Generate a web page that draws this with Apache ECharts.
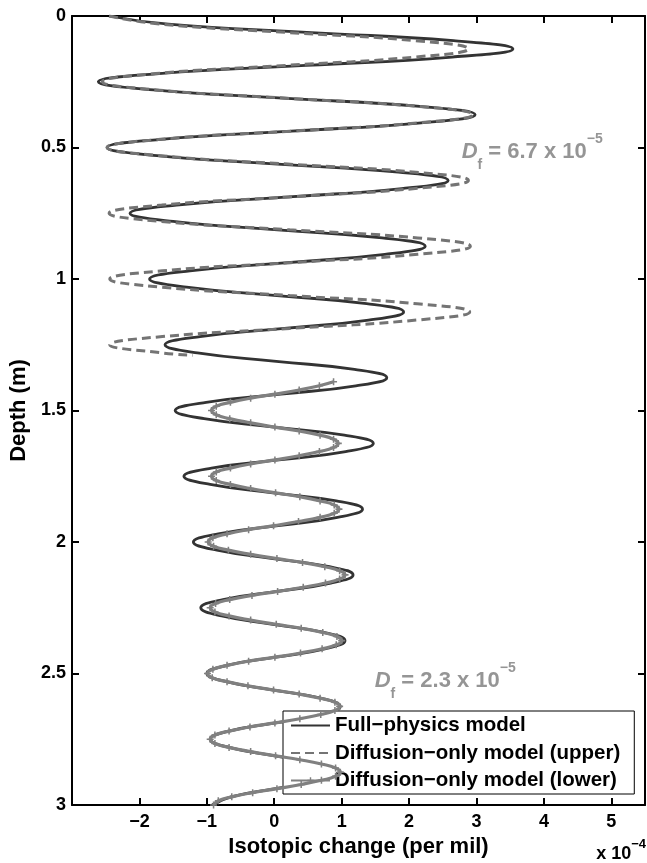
<!DOCTYPE html>
<html>
<head>
<meta charset="utf-8">
<title>Isotopic change with depth</title>
<script src="https://cdn.jsdelivr.net/npm/echarts/dist/echarts.min.js"></script>
<style>
  html, body { margin: 0; padding: 0; background: #ffffff; }
  #chart { width: 647px; height: 863px; }
</style>
</head>
<body>
<div id="chart"></div>
<script>
// Depth grid (m) shared by the full-physics profile, 1/8 of a 0.25 m cycle apart
const depthMain = [
  0,
  0.031, 0.063, 0.094, 0.125, 0.156, 0.188, 0.219, 0.25,
  0.281, 0.313, 0.344, 0.375, 0.406, 0.438, 0.469, 0.5,
  0.531, 0.563, 0.594, 0.625, 0.656, 0.688, 0.719, 0.75,
  0.781, 0.813, 0.844, 0.875, 0.906, 0.938, 0.969, 1.0,
  1.031, 1.063, 1.094, 1.125, 1.156, 1.188, 1.219, 1.25,
  1.281, 1.313, 1.344, 1.375, 1.406, 1.438, 1.469, 1.5,
  1.531, 1.563, 1.594, 1.625, 1.656, 1.688, 1.719, 1.75,
  1.781, 1.813, 1.844, 1.875, 1.906, 1.938, 1.969, 2.0,
  2.031, 2.063, 2.094, 2.125, 2.156, 2.188, 2.219, 2.25,
  2.281, 2.313, 2.344, 2.375, 2.406, 2.438, 2.469, 2.5,
  2.531, 2.563, 2.594, 2.625, 2.656, 2.688, 2.719, 2.75,
  2.781, 2.813, 2.844, 2.875, 2.906, 2.938, 2.969, 3.0
];

// Full-physics model, isotopic change (x 1e-4 per mil)
const fullPhysics = [
  -2.45,
  -1.57, 0.55, 2.66, 3.54, 2.64, 0.47, -1.71, -2.61,
  -1.79, 0.19, 2.16, 2.98, 2.18, 0.25, -1.68, -2.48,
  -1.74, 0.05, 1.84, 2.58, 1.89, 0.22, -1.45, -2.14,
  -1.50, 0.05, 1.60, 2.24, 1.64, 0.20, -1.25, -1.85,
  -1.30, 0.04, 1.37, 1.92, 1.40, 0.15, -1.10, -1.62,
  -1.14, 0.03, 1.19, 1.67, 1.21, 0.10, -1.01, -1.47,
  -1.04, 0.00, 1.04, 1.47, 1.06, 0.07, -0.93, -1.34,
  -0.95, -0.02, 0.92, 1.31, 0.94, 0.06, -0.83, -1.20,
  -0.85, -0.02, 0.82, 1.17, 0.84, 0.04, -0.76, -1.09,
  -0.78, -0.02, 0.74, 1.05, 0.75, 0.03, -0.70, -1.00,
  -0.71, -0.01, 0.69, 0.98, 0.70, 0.02, -0.67, -0.95,
  -0.67, 0.01, 0.68, 0.96, 0.68, 0.02, -0.64, -0.92
];

// Diffusion-only model, upper layer
const depthUpper = [
  0,
  0.031, 0.063, 0.094, 0.125, 0.156, 0.188, 0.219, 0.25,
  0.281, 0.313, 0.344, 0.375, 0.406, 0.438, 0.469, 0.5,
  0.531, 0.563, 0.594, 0.625, 0.656, 0.688, 0.719, 0.75,
  0.781, 0.813, 0.844, 0.875, 0.906, 0.938, 0.969, 1.0,
  1.031, 1.063, 1.094, 1.125, 1.156, 1.188, 1.219, 1.25,
  1.281, 1.29
];
const diffusionUpper = [
  -2.45,
  -1.67, 0.22, 2.10, 2.88, 2.09, 0.17, -1.76, -2.55,
  -1.75, 0.20, 2.15, 2.95, 2.16, 0.24, -1.69, -2.48,
  -1.70, 0.20, 2.10, 2.88, 2.09, 0.22, -1.67, -2.45,
  -1.67, 0.23, 2.13, 2.91, 2.13, 0.24, -1.66, -2.44,
  -1.66, 0.23, 2.12, 2.90, 2.12, 0.23, -1.66, -2.44,
  -1.66, -1.21
];

// Diffusion-only model, lower layer (1/16 of a cycle apart)
const depthLower = [
  1.391, 1.406, 1.422, 1.438, 1.453, 1.469, 1.484, 1.5,
  1.516, 1.531, 1.547, 1.563, 1.578, 1.594, 1.609, 1.625,
  1.641, 1.656, 1.672, 1.688, 1.703, 1.719, 1.734, 1.75,
  1.766, 1.781, 1.797, 1.813, 1.828, 1.844, 1.859, 1.875,
  1.891, 1.906, 1.922, 1.938, 1.953, 1.969, 1.984, 2.0,
  2.016, 2.031, 2.047, 2.063, 2.078, 2.094, 2.109, 2.125,
  2.141, 2.156, 2.172, 2.188, 2.203, 2.219, 2.234, 2.25,
  2.266, 2.281, 2.297, 2.313, 2.328, 2.344, 2.359, 2.375,
  2.391, 2.406, 2.422, 2.438, 2.453, 2.469, 2.484, 2.5,
  2.516, 2.531, 2.547, 2.563, 2.578, 2.594, 2.609, 2.625,
  2.641, 2.656, 2.672, 2.688, 2.703, 2.719, 2.734, 2.75,
  2.766, 2.781, 2.797, 2.813, 2.828, 2.844, 2.859, 2.875,
  2.891, 2.906, 2.922, 2.938, 2.953, 2.969, 2.984, 3.0
];
const diffusionLower = [
  0.88, 0.67, 0.37, 0.01, -0.35, -0.65, -0.86, -0.93,
  -0.86, -0.66, -0.35, 0.01, 0.37, 0.68, 0.88, 0.95,
  0.88, 0.67, 0.37, 0.01, -0.35, -0.65, -0.86, -0.93,
  -0.86, -0.65, -0.35, 0.02, 0.38, 0.68, 0.89, 0.96,
  0.89, 0.68, 0.36, -0.01, -0.38, -0.70, -0.91, -0.98,
  -0.90, -0.68, -0.35, 0.04, 0.42, 0.75, 0.97, 1.05,
  0.97, 0.76, 0.43, 0.05, -0.33, -0.66, -0.87, -0.95,
  -0.88, -0.67, -0.35, 0.03, 0.40, 0.72, 0.93, 1.00,
  0.92, 0.71, 0.39, 0.01, -0.38, -0.70, -0.91, -0.99,
  -0.92, -0.70, -0.39, -0.01, 0.37, 0.68, 0.90, 0.97,
  0.90, 0.69, 0.38, 0.01, -0.36, -0.67, -0.88, -0.95,
  -0.88, -0.67, -0.35, 0.02, 0.38, 0.70, 0.91, 0.98,
  0.91, 0.70, 0.40, 0.04, -0.32, -0.63, -0.83, -0.90
];

// Series names and diffusivity annotations
const seriesNames = [
  'Full\u2212physics model',
  'Diffusion\u2212only model (upper)',
  'Diffusion\u2212only model (lower)'
];
const diffusivities = ['6.7', '2.3'];

const FONT = '"Liberation Sans", Arial, Helvetica, sans-serif';
const DARK = '#333333';
const GREY_DASH = '#747474';
const GREY = '#808080';
const NOTE = '#7a7a7a';

// a small "+" marker drawn as a filled cross
const PLUS = 'path://M-0.22,-1 L0.22,-1 L0.22,-0.22 L1,-0.22 L1,0.22 L0.22,0.22 L0.22,1 L-0.22,1 L-0.22,0.22 L-1,0.22 L-1,-0.22 L-0.22,-0.22 Z';

const toPairs = (values, depths) => values.map((v, i) => [v, depths[i]]);
const signed = v => (v < 0 ? '\u2212' + Math.abs(v) : String(v));

const axisLineStyle = { color: '#000', width: 2 };
const tickStyle = { inside: true, length: 7, lineStyle: { color: '#000', width: 2 } };
const labelFont = { fontFamily: FONT, fontSize: 18, fontWeight: 'bold', color: '#000' };
const nameFont = { fontFamily: FONT, fontSize: 22, fontWeight: 'bold', color: '#000' };

const xRange = { min: -3, max: 5.5, interval: 1 };
const yRange = { min: 0, max: 3, interval: 0.5 };

const noteRich = {
  d: { fontFamily: FONT, fontSize: 22, fontWeight: 'bold', fontStyle: 'italic', color: NOTE, lineHeight: 40 },
  f: { fontFamily: FONT, fontSize: 14, fontWeight: 'bold', color: NOTE, verticalAlign: 'bottom', lineHeight: 14 },
  t: { fontFamily: FONT, fontSize: 22, fontWeight: 'bold', color: NOTE, lineHeight: 40 },
  e: { fontFamily: FONT, fontSize: 14, fontWeight: 'bold', color: NOTE, verticalAlign: 'top', lineHeight: 26 }
};

const chart = echarts.init(document.getElementById('chart'), null, { renderer: 'canvas' });

chart.setOption({
  animation: false,
  backgroundColor: '#ffffff',
  grid: { left: 72, right: 2, top: 16, bottom: 58, containLabel: false, outerBoundsMode: 'none' },
  xAxis: [
    Object.assign({
      type: 'value', position: 'bottom',
      name: 'Isotopic change (per mil)', nameLocation: 'middle', nameGap: 25,
      nameTextStyle: nameFont,
      axisLine: { onZero: false, lineStyle: axisLineStyle },
      axisTick: tickStyle,
      axisLabel: Object.assign({
        margin: 8,
        formatter: v => (Number.isInteger(v) && v > xRange.min) ? signed(v) : ''
      }, labelFont),
      splitLine: { show: false }
    }, xRange),
    Object.assign({
      type: 'value', position: 'top',
      axisLine: { onZero: false, lineStyle: axisLineStyle },
      axisTick: tickStyle,
      axisLabel: { show: false },
      splitLine: { show: false }
    }, xRange)
  ],
  yAxis: [
    Object.assign({
      type: 'value', position: 'left', inverse: true,
      name: 'Depth (m)', nameLocation: 'middle', nameGap: 39, nameRotate: 90,
      nameTextStyle: nameFont,
      axisLine: { onZero: false, lineStyle: axisLineStyle },
      axisTick: tickStyle,
      axisLabel: Object.assign({ margin: 6, formatter: v => String(v) }, labelFont),
      splitLine: { show: false }
    }, yRange),
    Object.assign({
      type: 'value', position: 'right', inverse: true,
      axisLine: { onZero: false, lineStyle: axisLineStyle },
      axisTick: tickStyle,
      axisLabel: { show: false },
      splitLine: { show: false }
    }, yRange)
  ],
  legend: {
    data: [
      { name: seriesNames[0], itemStyle: { opacity: 0 } },
      { name: seriesNames[1], itemStyle: { opacity: 0 } },
      { name: seriesNames[2] }
    ],
    orient: 'vertical',
    left: 283, top: 711,
    itemWidth: 39, itemHeight: 8, itemGap: 6.5,
    padding: [4, 14, 3, 7],
    backgroundColor: '#ffffff',
    borderColor: '#000000', borderWidth: 1, borderRadius: 0,
    selectedMode: false,
    textStyle: { fontFamily: FONT, fontSize: 20.5, fontWeight: 'bold', color: '#000', lineHeight: 20 }
  },
  series: [
    {
      name: seriesNames[0], type: 'line',
      data: toPairs(fullPhysics, depthMain),
      smooth: 0.5, symbol: 'none',
      lineStyle: { color: DARK, width: 2.8 },
      itemStyle: { color: DARK },
      z: 2
    },
    {
      name: seriesNames[1], type: 'line',
      data: toPairs(diffusionUpper, depthUpper),
      smooth: 0.5, symbol: 'none',
      lineStyle: { color: GREY_DASH, width: 3, type: [9, 5] },
      itemStyle: { color: GREY_DASH },
      z: 3
    },
    {
      name: seriesNames[2], type: 'line',
      data: toPairs(diffusionLower, depthLower),
      smooth: 0.5, symbol: PLUS, symbolSize: 7, showSymbol: true,
      lineStyle: { color: GREY, width: 3.2 },
      itemStyle: { color: GREY },
      z: 4
    },
    {
      type: 'scatter', silent: true, z: 6,
      symbolSize: 0,
      data: [[2.78, 0.518, diffusivities[0]], [1.49, 2.528, diffusivities[1]]],
      label: {
        show: true, position: 'right', distance: 0,
        align: 'left', verticalAlign: 'middle',
        formatter: p => '{d|D}{f|f}{t| = ' + p.value[2] + ' x 10}{e|\u22125}',
        rich: noteRich
      }
    }
  ],
  graphic: [
    {
      type: 'text', right: 1, top: 838,
      style: {
        text: '{t|x 10}{e|\u22124}',
        rich: {
          t: { fontFamily: FONT, fontSize: 18, fontWeight: 'bold', fill: '#000', lineHeight: 32 },
          e: { fontFamily: FONT, fontSize: 13, fontWeight: 'bold', fill: '#000', verticalAlign: 'top', lineHeight: 20 }
        }
      }
    }
  ]
});
</script>
</body>
</html>
